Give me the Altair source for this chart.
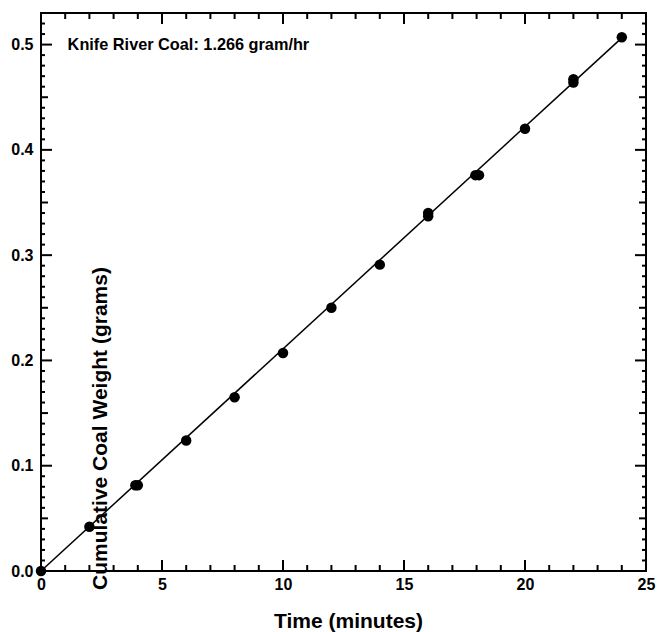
import altair as alt
import pandas as pd

# ---- data ----
times = [0, 2, 3.9, 4.0, 6, 8, 10, 12, 14, 16, 16, 17.95, 18.1, 20, 22, 22, 24]
weights = [0.0, 0.042, 0.0815, 0.0815, 0.124, 0.165, 0.207, 0.250, 0.291,
           0.337, 0.340, 0.376, 0.376, 0.420, 0.464, 0.467, 0.507]

fit_time = [0, 24]
fit_weight = [0.0, 0.5064]

annot_x = [1.1]
annot_y = [0.5]
annot_text = ["Knife River Coal: 1.266 gram/hr"]

x_major = [0, 5, 10, 15, 20, 25]
x_minor = [1, 2, 3, 4, 6, 7, 8, 9, 11, 12, 13, 14, 16, 17, 18, 19, 21, 22, 23, 24]
y_major = [0.0, 0.1, 0.2, 0.3, 0.4, 0.5]
y_mid = [0.05, 0.15, 0.25, 0.35, 0.45]
y_minor = [0.01, 0.02, 0.03, 0.04, 0.06, 0.07, 0.08, 0.09,
           0.11, 0.12, 0.13, 0.14, 0.16, 0.17, 0.18, 0.19,
           0.21, 0.22, 0.23, 0.24, 0.26, 0.27, 0.28, 0.29,
           0.31, 0.32, 0.33, 0.34, 0.36, 0.37, 0.38, 0.39,
           0.41, 0.42, 0.43, 0.44, 0.46, 0.47, 0.48, 0.49,
           0.51, 0.52]

W, H = 605, 558
FONT = "Liberation Sans"

xs = alt.Scale(domain=[0, 25], nice=False, zero=False)
ys = alt.Scale(domain=[0, 0.53], nice=False, zero=False)

pts = pd.DataFrame({"t": times, "w": weights})
fit = pd.DataFrame({"t": fit_time, "w": fit_weight})
ann = pd.DataFrame({"t": annot_x, "w": annot_y, "label": annot_text})

x_axis = alt.Axis(values=x_major, ticks=False, tickSize=0, domain=False, grid=False,
                  labelFont=FONT, labelFontSize=16, labelFontWeight="bold",
                  labelPadding=5, labelColor="black", labelFlush=False,
                  title="Time (minutes)", titleFont=FONT, titleFontSize=21,
                  titleFontWeight="bold", titleColor="black",
                  titleX=307, titleY=56, titleBaseline="alphabetic", titleAlign="center")
y_axis = alt.Axis(values=y_major, format=".1f", ticks=False, tickSize=0, domain=False,
                  grid=False, labelFont=FONT, labelFontSize=16, labelFontWeight="bold",
                  labelPadding=8, labelColor="black", labelFlush=False,
                  title="Cumulative Coal Weight (grams)", titleFont=FONT, titleFontSize=21,
                  titleFontWeight="bold", titleColor="black", titleAngle=270,
                  titleX=59, titleY=415, titleAlign="center", titleBaseline="middle")

line = alt.Chart(fit).mark_line(color="black", strokeWidth=1.5).encode(
    x=alt.X("t:Q", scale=xs, axis=x_axis),
    y=alt.Y("w:Q", scale=ys, axis=y_axis),
)

points = alt.Chart(pts).mark_circle(color="black", opacity=1, size=110).encode(
    x=alt.X("t:Q", scale=xs, axis=None),
    y=alt.Y("w:Q", scale=ys, axis=None),
)

text = alt.Chart(ann).mark_text(align="left", baseline="middle", font=FONT,
                                fontSize=16.3, fontWeight="bold", color="black").encode(
    x=alt.X("t:Q", scale=xs, axis=None),
    y=alt.Y("w:Q", scale=ys, axis=None),
    text="label:N",
)


def xticks(vals, length):
    d = pd.DataFrame({"v": vals})
    base = alt.Chart(d).mark_rule(color="black", strokeWidth=2)
    bottom = base.encode(x=alt.X("v:Q", scale=xs, axis=None),
                         y=alt.value(H), y2=alt.value(H - length))
    top = base.encode(x=alt.X("v:Q", scale=xs, axis=None),
                      y=alt.value(0), y2=alt.value(length))
    return [bottom, top]


def yticks(vals, length):
    d = pd.DataFrame({"v": vals})
    base = alt.Chart(d).mark_rule(color="black", strokeWidth=2)
    left = base.encode(y=alt.Y("v:Q", scale=ys, axis=None),
                       x=alt.value(0), x2=alt.value(length))
    right = base.encode(y=alt.Y("v:Q", scale=ys, axis=None),
                        x=alt.value(W), x2=alt.value(W - length))
    return [left, right]


tick_layers = (xticks(x_major, 11) + xticks(x_minor, 6)
               + yticks(y_major, 11) + yticks(y_mid, 7) + yticks(y_minor, 4))

chart = alt.layer(line, points, text, *tick_layers).resolve_axis(
    x="independent", y="independent"
).properties(
    width=W, height=H,
    autosize=alt.AutoSizeParams(type="none"),
    padding={"left": 41, "top": 13, "right": 11, "bottom": 61},
    background="white",
).configure_view(stroke="black", strokeWidth=2)

chart.save("out.html", embed_options={"renderer": "svg", "actions": False})
